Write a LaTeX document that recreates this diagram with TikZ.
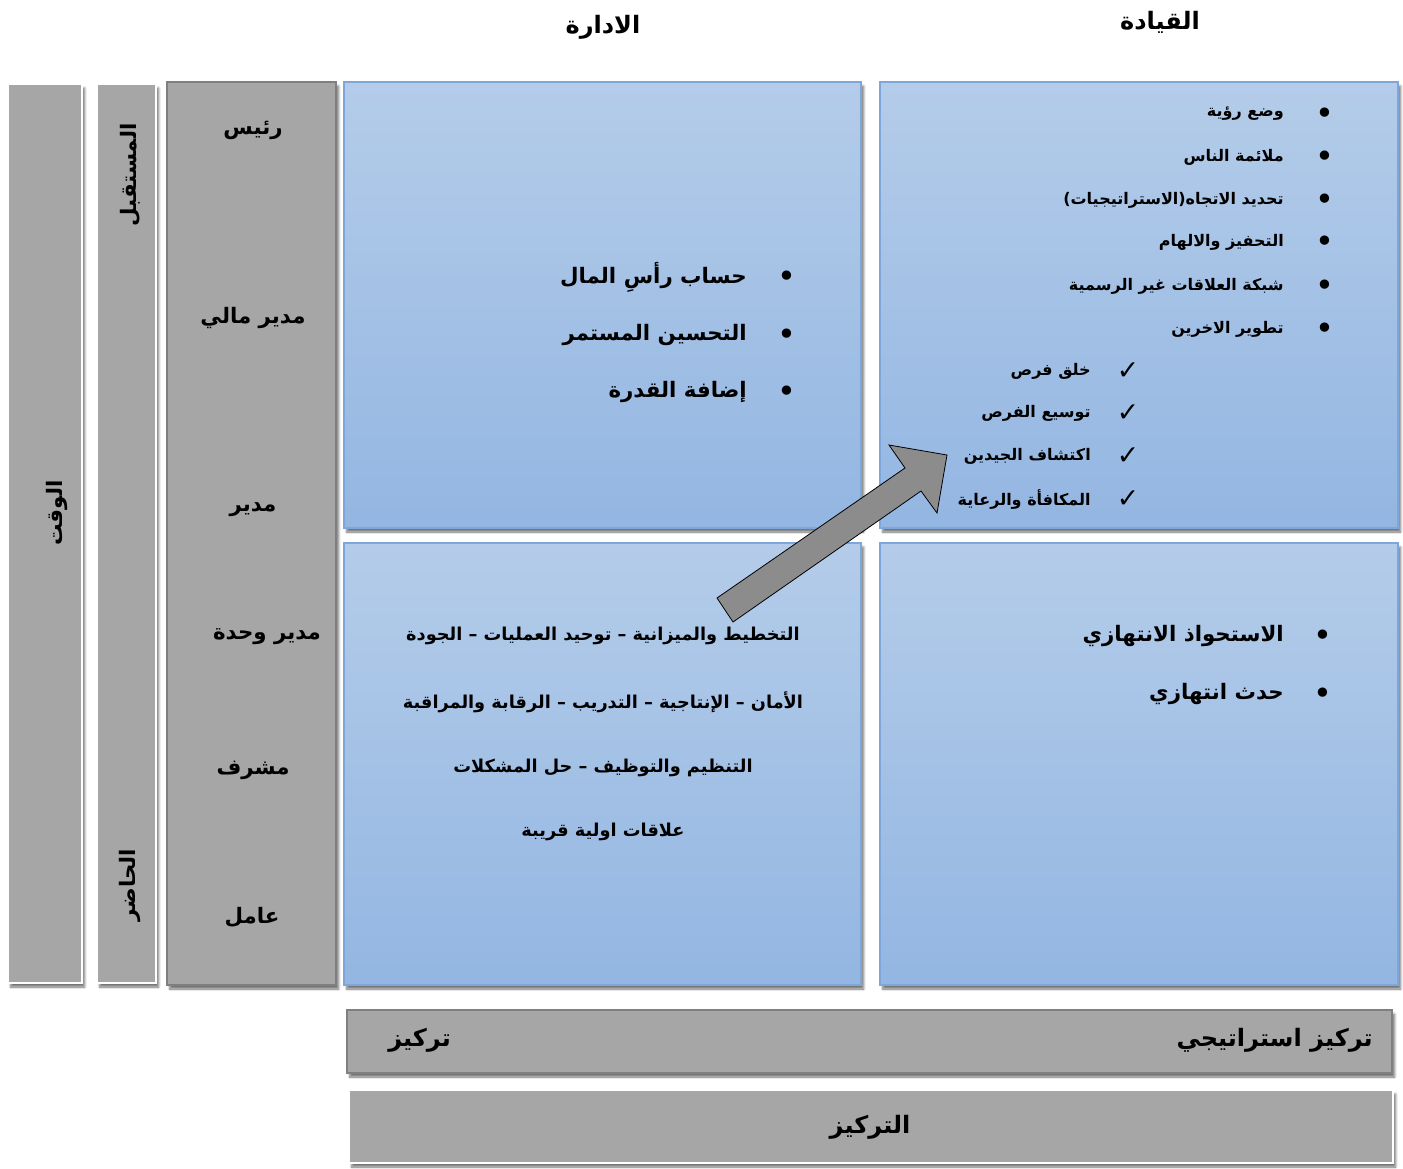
\documentclass[tikz,border=0pt]{standalone}
\usepackage{fontspec}
\usepackage{tikz}
\usetikzlibrary{shadows,shadows.blur}
\TeXXeTstate=1
\newfontfamily\arabicfont[Script=Arabic]{DejaVu Sans}
\newfontfamily\symbfont{DejaVu Sans}
\newcommand{\artext}[1]{{\arabicfont\bfseries\beginR #1\endR}}

\definecolor{barGray}{HTML}{A6A6A6}
\definecolor{barEdge}{HTML}{7F7F7F}
\definecolor{cellTop}{HTML}{B4CCE9}
\definecolor{cellBot}{HTML}{93B6E2}
\definecolor{cellEdge}{HTML}{7EA6D8}
\definecolor{arrowGray}{HTML}{8C8C8C}

\tikzset{
  softshadow/.style={blur shadow={shadow xshift=2pt, shadow yshift=-3pt, shadow blur steps=6, shadow opacity=55}},
  whitebar/.style={fill=barGray, draw=white, line width=2pt, softshadow},
  darkbar/.style={fill=barGray, draw=barEdge, line width=1.5pt, softshadow},
  cell/.style={top color=cellTop, bottom color=cellBot, draw=cellEdge, line width=0.8pt, softshadow},
  lbl/.style={inner sep=0pt, font=\fontsize{16}{18}\selectfont},
  headlbl/.style={inner sep=0pt, font=\fontsize{18}{20}\selectfont},
  listlbl/.style={inner sep=0pt, anchor=east, font=\fontsize{12}{14}\selectfont},
  biglbl/.style={inner sep=0pt, anchor=east, font=\fontsize{16}{18}\selectfont},
  midlbl/.style={inner sep=0pt, font=\fontsize{13.3}{15}\selectfont},
  dot/.style={inner sep=0pt, font=\symbfont\fontsize{24}{24}\selectfont},
  tick/.style={inner sep=0pt, font=\symbfont\fontsize{20}{20}\selectfont}
}

\begin{document}
\begin{tikzpicture}[x=0.75pt, y=-0.75pt]
  \useasboundingbox (0,0) rectangle (1403,1168);

  % Draw the time bars on the left
  \draw[whitebar] (8,84) rectangle (82,983);
  \draw[whitebar] (97,84) rectangle (156,983);
  \draw[darkbar] (167,82) rectangle (336,985);
  \node[lbl, rotate=90] (time) at (57,513) {\artext{الوقت}};
  \node[lbl, rotate=90] (future) at (130,175) {\artext{المستقبل}};
  \node[lbl, rotate=90] (present) at (130,885) {\artext{الحاضر}};

  % Job levels
  \foreach \x/\y/\t [count=\i] in {253/130/رئيس, 253/318/مدير مالي, 253/510/مدير,
      267/637/مدير وحدة, 253/770/مشرف, 252/917/عامل} {
    \node[lbl] (level\i) at (\x,\y) {\artext{\t}};
  }

  % The four cells
  \draw[cell] (344,82) rectangle (861,528);
  \draw[cell] (880,82) rectangle (1398,528);
  \draw[cell] (344,543) rectangle (861,985);
  \draw[cell] (880,543) rectangle (1398,985);

  % Column titles
  \node[headlbl] (mgmt) at (603,27) {\artext{الادارة}};
  \node[headlbl] (lead) at (1160,22) {\artext{القيادة}};

  % Leadership list
  \foreach \y/\t [count=\i] in {114/وضع رؤية, 157/ملائمة الناس, 200/تحديد الاتجاه(الاستراتيجيات),
      242/التحفيز والالهام, 286/شبكة العلاقات غير الرسمية, 329/تطوير الاخرين} {
    \node[dot] (ldot\i) at (1325,\y+2) {•};
    \node[listlbl] (litem\i) at (1284,\y) {\artext{\t}};
  }
  \foreach \y/\t [count=\i] in {371/خلق فرص, 413/توسيع الفرص, 456/اكتشاف الجيدين, 499/المكافأة والرعاية} {
    \node[tick] (lcheck\i) at (1128,\y) {✓};
    \node[listlbl] (lsub\i) at (1091,\y) {\artext{\t}};
  }

  % Management list
  \foreach \y/\t [count=\i] in {277/حساب رأسِ المال, 335/التحسين المستمر, 392/إضافة القدرة} {
    \node[dot] (mdot\i) at (787,\y+2) {•};
    \node[biglbl] (mitem\i) at (747,\y) {\artext{\t}};
  }

  % Operations text
  \foreach \y/\t [count=\i] in {636/التخطيط والميزانية – توحيد العمليات – الجودة,
      702/الأمان – الإنتاجية – التدريب – الرقابة والمراقبة,
      768/التنظيم والتوظيف – حل المشكلات, 832/علاقات اولية قريبة} {
    \node[midlbl] (oitem\i) at (603,\y) {\artext{\t}};
  }

  % Opportunistic list
  \foreach \y/\t [count=\i] in {636/الاستحواذ الانتهازي, 694/حدث انتهازي} {
    \node[dot] (odot\i) at (1323,\y+2) {•};
    \node[biglbl] (pitem\i) at (1284,\y) {\artext{\t}};
  }

  % Arrow from management to leadership
  \draw[fill=arrowGray, draw=black, line width=0.6pt, line join=miter]
    (717,598) -- (905,468) -- (889,445) -- (947,455) -- (937,513) -- (921,491) -- (733,622) -- cycle;

  % Focus bars at the bottom
  \draw[darkbar] (347,1010) rectangle (1392,1073);
  \node[headlbl, anchor=east] (strat) at (1373,1040) {\artext{تركيز استراتيجي}};
  \node[headlbl, anchor=west] (focus) at (388,1040) {\artext{تركيز}};
  \draw[whitebar] (349,1090) rectangle (1393,1163);
  \node[headlbl] (focusall) at (870,1127) {\artext{التركيز}};
\end{tikzpicture}
\end{document}
